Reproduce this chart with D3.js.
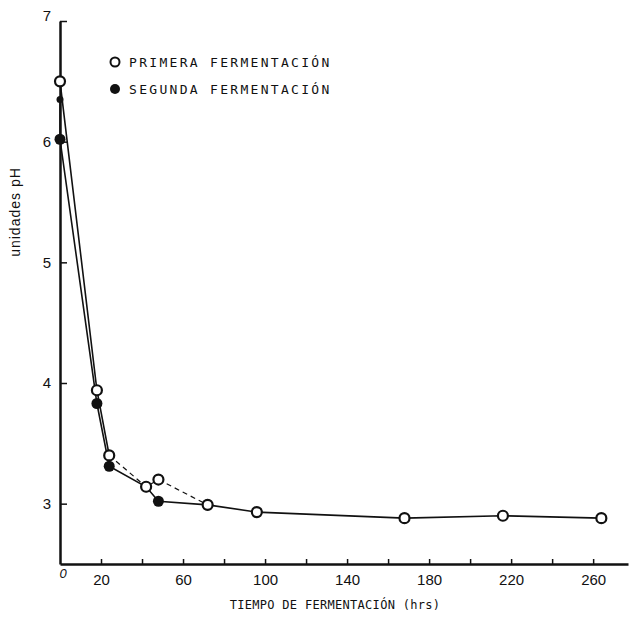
<!DOCTYPE html>
<html>
<head>
<meta charset="utf-8">
<script src="https://cdn.jsdelivr.net/npm/d3@7"></script>
<style>
  body { margin: 0; background: #fff; }
  text { fill: #111; }
</style>
</head>
<body>
<div id="chart"></div>
<script>
// Data
const tiemposPrimera = [0, 18, 24, 42, 48, 72, 96, 168, 216, 264];
const phPrimera = [6.5, 3.94, 3.40, 3.14, 3.20, 2.99, 2.93, 2.88, 2.90, 2.88];

const tiemposSegunda = [0, 0, 18, 24, 42, 48, 72];
const phSegunda = [6.35, 6.02, 3.83, 3.31, 3.14, 3.02, 2.99];

const xTicks = [20, 40, 60, 80, 100, 120, 140, 160, 180, 200, 220, 240, 260];
const xTickLabels = [20, 60, 100, 140, 180, 220, 260];
const yTicks = [3, 4, 5, 6, 7];

const legendLabels = ["PRIMERA FERMENTACIÓN", "SEGUNDA FERMENTACIÓN"];

const width = 635;
const height = 625;

const svg = d3
    .select("#chart")
    .append("svg")
    .attr("width", width)
    .attr("height", height);

const x = d3.scaleLinear().domain([0, 277]).range([60, 628]);
const y = d3.scaleLinear().domain([2.5, 7]).range([564, 21]);

const primera = tiemposPrimera.map((t, i) => ({ t: t, ph: phPrimera[i] }));
const segunda = tiemposSegunda.map((t, i) => ({ t: t, ph: phSegunda[i] }));

// Axes
const xAxis = d3.axisBottom(x)
    .tickValues(xTicks)
    .tickSizeInner(-5)
    .tickSizeOuter(0)
    .tickPadding(10)
    .tickFormat((d) => (xTickLabels.includes(d) ? d : ""));

const yAxis = d3.axisLeft(y)
    .tickValues(yTicks)
    .tickSizeInner(-7)
    .tickSizeOuter(0)
    .tickPadding(9)
    .tickFormat(d3.format("d"));

const xAxisGroup = svg.append("g")
    .attr("transform", `translate(0, ${y(2.5)})`)
    .call(xAxis);

const yAxisGroup = svg.append("g")
    .attr("transform", `translate(${x(0)}, 0)`)
    .call(yAxis);

[xAxisGroup, yAxisGroup].forEach((g) => {
    g.select(".domain").attr("stroke", "#111").attr("stroke-width", 2.5);
    g.selectAll(".tick line").attr("stroke", "#111").attr("stroke-width", 1.5);
    g.selectAll(".tick text")
        .style("font-family", "'Liberation Sans', Arial, sans-serif")
        .style("font-size", "15px")
        .attr("fill", "#111");
});

// the "7" sits a little above its tick
yAxisGroup.selectAll(".tick text").filter((d) => d === 7).attr("dy", "-0.05em");

// "0" at the origin
svg.append("text")
    .attr("x", x(0) + 3)
    .attr("y", y(2.5) + 14)
    .attr("text-anchor", "middle")
    .style("font-family", "'Liberation Sans', Arial, sans-serif")
    .style("font-size", "13px")
    .style("font-style", "italic")
    .text("0");

// Axis titles
svg.append("text")
    .attr("x", 335)
    .attr("y", 609)
    .attr("text-anchor", "middle")
    .style("font-family", "'DejaVu Sans Mono', monospace")
    .style("font-size", "12px")
    .style("letter-spacing", "0.3px")
    .text("TIEMPO DE FERMENTACIÓN (hrs)");

svg.append("text")
    .attr("transform", "translate(20, 212) rotate(-90)")
    .attr("text-anchor", "middle")
    .style("font-family", "'Liberation Sans', Arial, sans-serif")
    .style("font-size", "14px")
    .style("letter-spacing", "1px")
    .text("unidades pH");

// Lines
const line = d3.line().x((d) => x(d.t)).y((d) => y(d.ph));

svg.append("path")
    .datum(segunda)
    .attr("fill", "none")
    .attr("stroke", "#111")
    .attr("stroke-width", 1.6)
    .attr("d", line);

// primera: solid, dashed between 24 and 72 hrs
svg.append("path")
    .datum(primera.filter((d) => d.t <= 24))
    .attr("fill", "none")
    .attr("stroke", "#111")
    .attr("stroke-width", 1.6)
    .attr("d", line);

svg.append("path")
    .datum(primera.filter((d) => d.t >= 24 && d.t <= 72))
    .attr("fill", "none")
    .attr("stroke", "#111")
    .attr("stroke-width", 1.2)
    .attr("stroke-dasharray", "5,4")
    .attr("d", line);

svg.append("path")
    .datum(primera.filter((d) => d.t >= 72))
    .attr("fill", "none")
    .attr("stroke", "#111")
    .attr("stroke-width", 1.6)
    .attr("d", line);

// Markers
svg.selectAll(".pt-segunda")
    .data(segunda)
    .enter()
    .append("circle")
    .attr("class", "pt-segunda")
    .attr("cx", (d) => x(d.t))
    .attr("cy", (d) => y(d.ph))
    .attr("r", (d, i) => (i === 0 ? 3.5 : 5.5))
    .attr("fill", "#111");

svg.selectAll(".pt-primera")
    .data(primera)
    .enter()
    .append("circle")
    .attr("class", "pt-primera")
    .attr("cx", (d) => x(d.t))
    .attr("cy", (d) => y(d.ph))
    .attr("r", 5)
    .attr("fill", "#fff")
    .attr("stroke", "#111")
    .attr("stroke-width", 2.2);

// Legend
const legend = svg.append("g").attr("transform", "translate(115, 62)");

legend.append("circle")
    .attr("cx", 0).attr("cy", 0).attr("r", 4.5)
    .attr("fill", "#fff").attr("stroke", "#111").attr("stroke-width", 2);

legend.append("circle")
    .attr("cx", 0).attr("cy", 27).attr("r", 5)
    .attr("fill", "#111");

legend.selectAll(".legend-label")
    .data(legendLabels)
    .enter()
    .append("text")
    .attr("class", "legend-label")
    .attr("x", 14)
    .attr("y", (d, i) => i * 27 + 5)
    .style("font-family", "'DejaVu Sans Mono', monospace")
    .style("font-size", "13px")
    .style("letter-spacing", "2.3px")
    .text((d) => d);
</script>
</body>
</html>
